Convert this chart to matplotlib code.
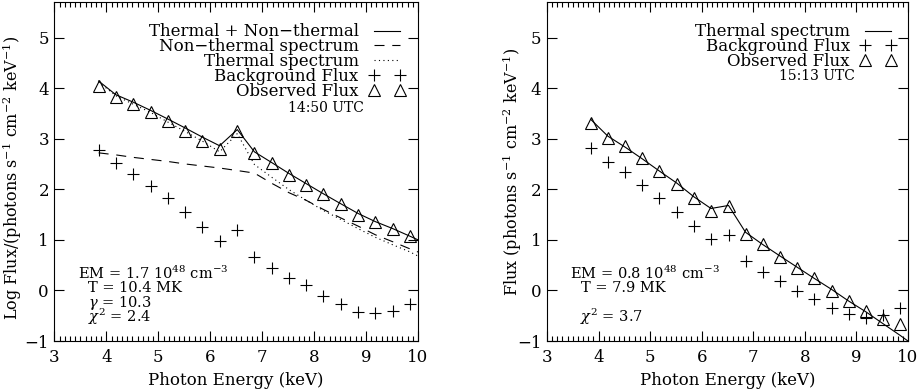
import matplotlib
matplotlib.use('Agg')
import matplotlib.pyplot as plt
from matplotlib.ticker import MultipleLocator

plt.rcParams['font.family'] = 'DejaVu Serif'
plt.rcParams['mathtext.fontset'] = 'dejavuserif'
plt.rcParams['font.size'] = 12

# photon energies of the data bins (keV)
energy = [3.85, 4.18, 4.52, 4.85, 5.18, 5.52, 5.85, 6.18, 6.52, 6.85,
          7.18, 7.52, 7.85, 8.18, 8.52, 8.85, 9.18, 9.52, 9.85]
# model curves are sampled on the same bins plus the 10 keV edge
model_energy = energy + [10.0]

# 14:50 UTC
obs_1450 = [4.04, 3.82, 3.68, 3.52, 3.34, 3.16, 2.96, 2.80, 3.15, 2.72,
            2.52, 2.29, 2.09, 1.90, 1.70, 1.50, 1.36, 1.22, 1.08]
bkg_1450 = [2.78, 2.52, 2.31, 2.07, 1.82, 1.55, 1.26, 0.98, 1.20, 0.66,
            0.44, 0.25, 0.11, -0.11, -0.27, -0.42, -0.45, -0.41, -0.27]
total_1450 = [4.14, 3.87, 3.72, 3.56, 3.39, 3.21, 3.03, 2.86, 3.18, 2.74,
              2.53, 2.31, 2.11, 1.91, 1.71, 1.52, 1.36, 1.22, 1.07, 1.00]
nonth_1450 = [2.72, 2.68, 2.63, 2.59, 2.55, 2.50, 2.46, 2.42, 2.37, 2.32,
              2.12, 1.93, 1.78, 1.60, 1.43, 1.27, 1.10, 0.96, 0.82, 0.76]
therm_1450 = [4.12, 3.85, 3.68, 3.52, 3.33, 3.14, 2.95, 2.74, 3.10, 2.49,
              2.24, 1.99, 1.78, 1.58, 1.40, 1.22, 1.05, 0.90, 0.76, 0.68]

# 15:13 UTC
obs_1513 = [3.31, 3.01, 2.85, 2.62, 2.37, 2.11, 1.83, 1.58, 1.67, 1.11,
            0.91, 0.67, 0.45, 0.25, -0.01, -0.21, -0.40, -0.57, -0.67]
bkg_1513 = [2.82, 2.54, 2.34, 2.08, 1.82, 1.55, 1.27, 1.02, 1.09, 0.58,
            0.36, 0.19, -0.01, -0.16, -0.34, -0.47, -0.54, -0.49, -0.34]
therm_1513 = [3.38, 3.05, 2.83, 2.60, 2.36, 2.12, 1.85, 1.62, 1.68, 1.15,
              0.91, 0.68, 0.46, 0.24, 0.02, -0.21, -0.42, -0.66, -0.89, -1.00]

fig = plt.figure(figsize=(9.19, 3.90), dpi=100)
ax1 = fig.add_axes([0.0593, 0.1256, 0.3955, 0.869])
ax2 = fig.add_axes([0.5952, 0.1256, 0.3928, 0.869])

lw = 0.8
mk = dict(ls='none', color='black', markersize=9, mew=0.8)
note = dict(va='center', fontsize=10.5)

# left panel
ax1.plot(model_energy, total_1450, '-', color='black', lw=lw, label='Thermal + Non\u2212thermal')
ax1.plot(model_energy, nonth_1450, color='black', lw=lw, ls=(0, (9, 7)), label='Non\u2212thermal spectrum')
ax1.plot(model_energy, therm_1450, color='black', lw=lw, ls=(0, (1, 3)), label='Thermal spectrum')
ax1.plot(energy, bkg_1450, marker='+', label='Background Flux', **mk)
ax1.plot(energy, obs_1450, marker='^', mfc='none', label='Observed Flux', **mk)
ax1.set_ylabel('Log Flux/(photons s$^{-1}$ cm$^{-2}$ keV$^{-1}$)', fontsize=11.5)
ax1.yaxis.set_label_coords(-0.083, 0.48)
ax1.text(0.747, 0.688, '14:50 UTC', transform=ax1.transAxes, ha='center', va='center', fontsize=10)
ax1.text(0.065, 0.201, 'EM = 1.7 10$^{48}$ cm$^{-3}$', transform=ax1.transAxes, **note)
ax1.text(0.092, 0.157, 'T = 10.4 MK', transform=ax1.transAxes, **note)
ax1.text(0.092, 0.113, '$\\gamma$ = 10.3', transform=ax1.transAxes, **note)
ax1.text(0.092, 0.071, '$\\chi^2$ = 2.4', transform=ax1.transAxes, **note)

# right panel
ax2.plot(model_energy, therm_1513, '-', color='black', lw=lw, label='Thermal spectrum')
ax2.plot(energy, bkg_1513, marker='+', label='Background Flux', **mk)
ax2.plot(energy, obs_1513, marker='^', mfc='none', label='Observed Flux', **mk)
ax2.set_ylabel('Flux (photons s$^{-1}$ cm$^{-2}$ keV$^{-1}$)', fontsize=11.5)
ax2.yaxis.set_label_coords(-0.064, 0.50)
ax2.text(0.748, 0.782, '15:13 UTC', transform=ax2.transAxes, ha='center', va='center', fontsize=10)
ax2.text(0.064, 0.199, 'EM = 0.8 10$^{48}$ cm$^{-3}$', transform=ax2.transAxes, **note)
ax2.text(0.094, 0.155, 'T = 7.9 MK', transform=ax2.transAxes, **note)
ax2.text(0.092, 0.071, '$\\chi^2$ = 3.7', transform=ax2.transAxes, **note)

for ax, anchor in ((ax1, (0.965, 0.937)), (ax2, (0.968, 0.937))):
    ax.set_xlim(3, 10)
    ax.set_ylim(-1, 5.7)
    ax.set_yticks(range(-1, 6))
    ax.xaxis.set_minor_locator(MultipleLocator(0.1))
    ax.set_xlabel('Photon Energy (keV)')
    ax.tick_params(which='both', direction='in', top=True, right=True, width=0.8)
    ax.tick_params(which='major', length=7)
    ax.tick_params(axis='x', which='major', pad=6)
    ax.tick_params(axis='y', which='major', pad=4)
    ax.tick_params(which='minor', length=3.5)
    for s in ax.spines.values():
        s.set_linewidth(0.8)
    ax.legend(loc='upper right', bbox_to_anchor=anchor, frameon=False, markerfirst=False,
              numpoints=2, handlelength=2.2, handletextpad=0.6, labelspacing=-0.13,
              borderpad=0, borderaxespad=0, fontsize=12)

fig.savefig('out.png', dpi=100)
